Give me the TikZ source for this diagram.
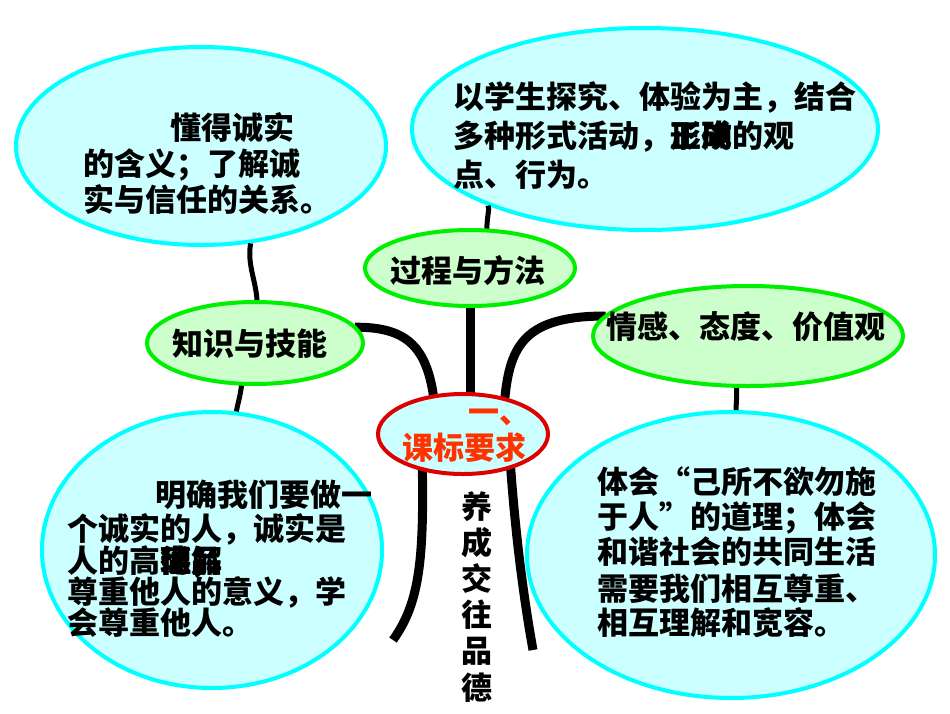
\documentclass[tikz,border=0pt]{standalone}
\usepackage{fontspec}
\newfontfamily\cjk{Noto Sans CJK SC}
\usetikzlibrary{shapes.geometric}
\definecolor{cyfill}{HTML}{CCFFFF}
\definecolor{cyline}{HTML}{00FFFF}
\definecolor{grfill}{HTML}{CCFFCC}
\definecolor{grline}{HTML}{00EE00}
\definecolor{rdline}{HTML}{DD0000}
\definecolor{rdtext}{HTML}{FF3300}
\begin{document}
\begin{tikzpicture}[x=1pt,y=-1pt,
  cyell/.style={ellipse, draw=cyline, fill=cyfill, line width=4pt, inner sep=0pt},
  ellshape/.style={ellipse, inner sep=0pt},
  grell/.style={ellipse, draw=grline, fill=grfill, line width=4pt, inner sep=0pt},
  rdell/.style={ellipse, draw=rdline, fill=cyfill, line width=4pt, inner sep=0pt},
  bigline/.style={line width=9pt, black},
  thinline/.style={line width=5pt, black},
  txt/.style={inner sep=0pt, anchor=base west, font=\cjk\bfseries\fontsize{31}{31}\selectfont},
  ctxt/.style={txt, anchor=base}
]
\fill[white] (0,0) rectangle (950,713);
\useasboundingbox (0,0) rectangle (950,713);

% big ellipses
\path
  (201,146) node[cyell, minimum width=370pt, minimum height=198pt] (tl) {}
  (645,129) node[cyell, minimum width=466pt, minimum height=202pt] (tr) {}
  (212,550) node[cyell, minimum width=340pt, minimum height=276pt] (bl) {}
  (731,555) node[cyell, minimum width=408pt, minimum height=286pt] (br) {};
\coordinate (la) at (393,640);
\coordinate (ra) at (533,650);

% outlines of the small ellipses (for connector anchors)
\path
  (255,343) node[ellshape, minimum width=216pt, minimum height=82pt] (zs) {}
  (470,268) node[ellshape, minimum width=210pt, minimum height=76pt] (gc) {}
  (748,336) node[ellshape, minimum width=310pt, minimum height=100pt] (qg) {}
  (463,434) node[ellshape, minimum width=170pt, minimum height=80pt] (kb) {};

\draw[bigline] (zs.9) .. controls (405,327) and (426,345) .. (kb.128);
\draw[bigline] (gc.south) -- (gc.south |- kb.north);
\draw[bigline] (qg.172) .. controls (525,316) and (510,345) .. (kb.40);
\draw[thinline] (tl.-63) .. controls (247,265) and (256,280) .. (zs.87);
\draw[thinline] (zs.-108) .. controls (240,398) and (238,402) .. (bl.80);
\draw[thinline] (gc.66) .. controls (487,215) and (490,208) .. (tr.206);
\draw[thinline] (qg.-103) .. controls (737,398) and (736,405) .. (br.88);
\draw[bigline] (kb.-139) .. controls (424,565) and (418,605) .. (la);
\draw[bigline] (kb.-35) .. controls (516,540) and (524,600) .. (ra);

% visible small ellipses on top of connector ends
\path
  (zs.center) node[grell, minimum width=216pt, minimum height=82pt] (zsv) {}
  (gc.center) node[grell, minimum width=210pt, minimum height=76pt] (gcv) {}
  (qg.center) node[grell, minimum width=310pt, minimum height=100pt] (qgv) {}
  (kb.center) node[rdell, minimum width=170pt, minimum height=80pt] (kbv) {};

% top-left text
\node[txt] (tla) at (170,139) {懂得诚实};
\node[txt] (tlb) at (83,175) {的含义；了解诚};
\node[txt] (tlc) at (83,211) {实与信任的关系。};

% top-right text
\node[txt] (tra) at (453,108) {以学生探究、体验为主，结合};
\node[txt] (trb) at (453,147) {多种形式活动，};
\node[txt] (trc) at (670,147) {形成};
\node[txt] (trd) at (670,147) {正确};
\node[txt] (tre) at (732,147) {的观};
\node[txt] (trf) at (453,186) {点、行为。};

% bottom-left text
\node[txt] (bla) at (155,506) {明确我们要做一};
\node[txt] (blb) at (67,540) {个诚实的人，诚实是};
\node[txt] (blc) at (67,572) {人的高};
\node[txt] (bld) at (160,572) {尚品};
\node[txt] (ble) at (160,572) {德；};
\node[txt] (blf) at (160,572) {理解};
\node[txt] (blg) at (67,603) {尊重他人的意义，学};
\node[txt] (blh) at (67,634) {会尊重他人。};

% bottom-right text
\node[txt] (bra) at (597,493) {体会“己所不欲勿施};
\node[txt] (brb) at (597,528) {于人”的道理；体会};
\node[txt] (brc) at (597,563) {和谐社会的共同生活};
\node[txt] (brd) at (597,600) {需要我们相互尊重、};
\node[txt] (bre) at (597,634) {相互理解和宽容。};

% green labels
\node[ctxt] (zst) at (250,355) {知识与技能};
\node[ctxt] (gct) at (468,282) {过程与方法};
\node[ctxt] (qgt) at (746,338) {情感、态度、价值观};

% centre
\node[txt, text=rdtext] (kba) at (468,423) {一、};
\node[txt, text=rdtext] (kbb) at (402,459) {课标要求};

% vertical text
\node[ctxt] (v1) at (477,518) {养};
\node[ctxt] (v2) at (477,554) {成};
\node[ctxt] (v3) at (477,590) {交};
\node[ctxt] (v4) at (477,626) {往};
\node[ctxt] (v5) at (477,662) {品};
\node[ctxt] (v6) at (477,699) {德};
\end{tikzpicture}
\end{document}
